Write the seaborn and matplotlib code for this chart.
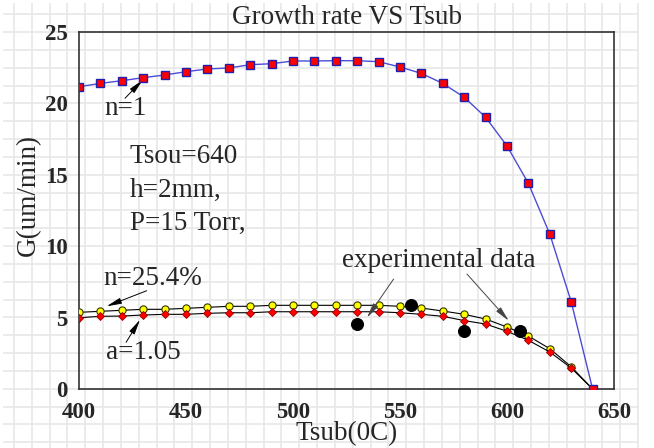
import numpy as np
import matplotlib
matplotlib.use("Agg")
import matplotlib.pyplot as plt
import seaborn as sns
from matplotlib.ticker import MultipleLocator

# Growth rate vs substrate temperature

tsub = [400, 410, 420, 430, 440, 450, 460, 470, 480, 490, 500, 510, 520,
        530, 540, 550, 560, 570, 580, 590, 600, 610, 620, 630, 640]
g_n1 = [21.17, 21.40, 21.59, 21.80, 21.99, 22.22, 22.41, 22.48, 22.71, 22.78,
        22.97, 22.97, 22.99, 22.99, 22.92, 22.55, 22.10, 21.40, 20.43, 19.03,
        17.02, 14.40, 10.85, 6.11, 0.0]
g_n254 = [5.37, 5.44, 5.51, 5.58, 5.58, 5.65, 5.72, 5.79, 5.79, 5.86, 5.86,
          5.86, 5.86, 5.86, 5.86, 5.79, 5.67, 5.46, 5.23, 4.90, 4.34, 3.71,
          2.82, 1.56, 0.0]
g_a105 = [4.99, 5.09, 5.11, 5.18, 5.23, 5.23, 5.30, 5.34, 5.34, 5.41, 5.41,
          5.41, 5.41, 5.41, 5.41, 5.34, 5.23, 5.09, 4.79, 4.55, 4.04, 3.41,
          2.59, 1.47, 0.0]
exp_t = [530, 555, 580, 606]
exp_g = [4.55, 5.90, 4.04, 4.08]

sns.set_style("white")
plt.rcParams['font.family'] = ['Liberation Serif', 'DejaVu Serif']

fig = plt.figure(figsize=(6.54, 4.48), dpi=100)
fig.patch.set_facecolor('white')

# graph-paper background behind everything (pixel coords)
bg = fig.add_axes([3/654, 0, 636/654, 445/448], zorder=0)
bg.set_xlim(3, 639)
bg.set_ylim(448, 3)
bg.set_xticks(14 + 17.83 * np.arange(36))
bg.set_yticks(14.3 + 17.83 * np.arange(25))
bg.grid(True, color='#e6e6e6', lw=1.1)
bg.tick_params(length=0, labelbottom=False, labelleft=False)
for s in bg.spines.values():
    s.set_visible(False)

ax = fig.add_axes([79/654, 1 - 389/448, 535/654, 357/448], zorder=1)
ax.set_facecolor('none')

sns.lineplot(x=tsub, y=g_n254, ax=ax, color='black', lw=0.8, marker='o',
             markersize=5.2, markerfacecolor='#ffff00', markeredgecolor='#333300',
             markeredgewidth=0.8, zorder=3)
sns.lineplot(x=tsub, y=g_a105, ax=ax, color='black', lw=0.8, marker='D',
             markersize=3.8, markerfacecolor='#ff0000', markeredgecolor='#990000',
             markeredgewidth=0.6, zorder=3)
sns.lineplot(x=tsub, y=g_n1, ax=ax, color='#4c4cd6', lw=1.0, marker='s',
             markersize=5.2, markerfacecolor='#ff0000', markeredgecolor='#2020b0',
             markeredgewidth=1.0, zorder=4)
sns.scatterplot(x=exp_t, y=exp_g, ax=ax, color='black', s=75, edgecolor='black',
                zorder=5)

ax.set_xlim(400, 650)
ax.set_ylim(0, 25)
ax.xaxis.set_major_locator(MultipleLocator(50))
ax.xaxis.set_minor_locator(MultipleLocator(25))
ax.yaxis.set_major_locator(MultipleLocator(5))
ax.yaxis.set_minor_locator(MultipleLocator(2.5))
ax.tick_params(which='both', direction='in', top=False, right=False,
               width=1, color='#333333')
ax.tick_params(axis='x', which='major', length=9, pad=9)
ax.tick_params(axis='x', which='minor', length=4.5)
ax.tick_params(axis='y', which='major', length=10, pad=8)
ax.tick_params(axis='y', which='minor', length=5)
for lab in ax.get_xticklabels() + ax.get_yticklabels():
    lab.set_fontweight('bold')
    lab.set_fontsize(16.5)
for s in ax.spines.values():
    s.set_color('#333333')
    s.set_linewidth(1.2)

ax.set_title('Growth rate VS Tsub', fontsize=19.5, pad=6)
ax.set_xlabel('Tsub(0C)', fontsize=19.5)
ax.xaxis.set_label_coords(0.5, -0.09)
ax.set_ylabel('G(um/min)', fontsize=19.5, va='center')
ax.yaxis.set_label_coords(-0.0953, 0.543)

fs = 19.5
ax.text(411.7, 19.19, 'n=1', fontsize=fs)
ax.text(423.8, 15.8, 'Tsou=640', fontsize=fs)
ax.text(423.8, 13.47, 'h=2mm,', fontsize=fs)
ax.text(423.8, 11.13, 'P=15 Torr,', fontsize=fs)
ax.text(411.2, 7.28, 'n=25.4%', fontsize=fs)
ax.text(412.6, 2.1, 'a=1.05', fontsize=fs)
ax.text(522.9, 8.57, 'experimental data', fontsize=fs)

arrow = dict(arrowstyle='-|>,head_length=0.9,head_width=0.18', color='black',
             lw=0.7, shrinkA=0, shrinkB=0)
ax.annotate('', xy=(429.8, 21.64), xytext=(421.5, 20.36), arrowprops=arrow)
ax.annotate('', xy=(412.9, 5.79), xytext=(431.6, 6.88), arrowprops=arrow)
ax.annotate('', xy=(428.5, 4.85), xytext=(422.0, 3.27), arrowprops=arrow)
arrow2 = dict(arrow, color='#444444')
ax.annotate('', xy=(534.6, 5.0), xytext=(547.0, 7.7), arrowprops=arrow2)
ax.annotate('', xy=(600.8, 4.78), xytext=(581.3, 8.05), arrowprops=arrow2)

plt.savefig('out.png', dpi=100)
